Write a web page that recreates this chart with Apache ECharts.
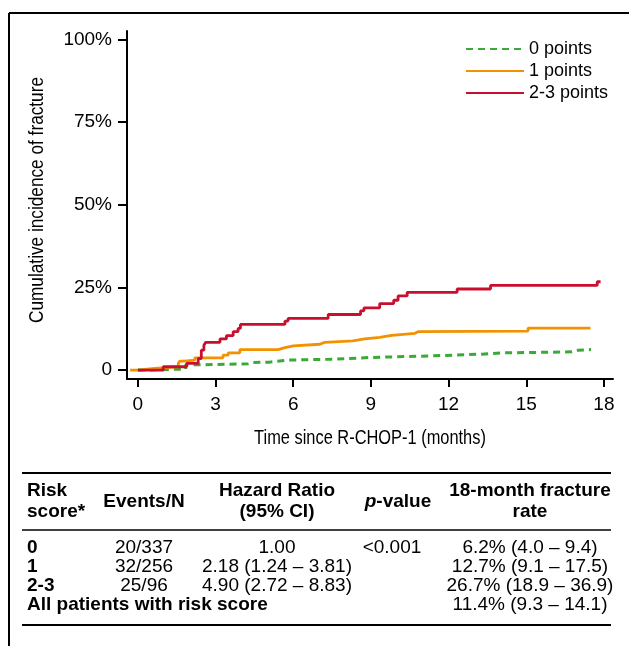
<!DOCTYPE html>
<html>
<head>
<meta charset="utf-8">
<script src="https://cdn.jsdelivr.net/npm/echarts@6/dist/echarts.min.js"></script>
<style>
html,body{margin:0;padding:0;background:#fff;}
#main{width:629px;height:646px;}
</style>
</head>
<body>
<div id="main"></div>
<script>
// ---- Data (months, cumulative incidence %) ----
const seriesNames = ['0 points', '1 points', '2-3 points'];

const t0 = [0, 0.3, 1.85, 2.45, 4.26, 4.45, 5.1, 5.74, 7.67, 8.57, 8.96, 11.4, 13.27, 14.1, 16.74, 17.0, 17.5];
const y0 = [0, 0.3, 1.6, 1.9, 2.3, 2.4, 3.0, 3.3, 3.6, 3.8, 4.3, 4.8, 5.2, 5.5, 6.0, 6.2, 6.2];

const t1 = [-0.3, 0.1, 0.35, 0.66, 1.56, 1.62, 1.79, 2.2, 3.29, 3.49, 3.94, 5.42, 5.68, 6.0, 7.03, 7.22, 8.31, 8.76, 9.34, 9.8, 10.7, 10.82, 15.07, 17.48];
const y1 = [0, 0.3, 0.5, 1.0, 2.0, 2.7, 3.0, 3.7, 4.5, 5.2, 6.2, 6.8, 7.3, 7.8, 8.4, 8.8, 9.4, 9.9, 10.5, 11.1, 11.6, 11.8, 12.7, 12.7];

const t2 = [0, 0.98, 1.88, 2.33, 2.45, 2.55, 2.62, 3.17, 3.42, 3.68, 3.87, 3.96, 5.68, 5.80, 7.35, 8.6, 8.73, 9.34, 9.88, 10.05, 10.4, 12.33, 13.62, 17.74, 17.87];
const y2 = [0, 1.0, 2.0, 3.5, 6.0, 7.5, 8.4, 9.4, 10.4, 11.6, 12.6, 13.8, 14.8, 15.6, 16.8, 17.9, 18.8, 20.1, 21.1, 22.4, 23.5, 24.5, 25.6, 26.7, 26.7];

const xTicks = [0, 3, 6, 9, 12, 15, 18];
const yTicks = [0, 25, 50, 75, 100];
const xTitle = 'Time since R-CHOP-1 (months)';
const yTitle = 'Cumulative incidence of fracture';

// ---- Table contents ----
const headRow1 = ['Risk', 'Hazard Ratio', '18-month fracture'];
const headRow2 = ['score*', '(95% CI)', 'rate'];
const headMid = ['Events/N', '{i|p}-value'];
const rowScores = ['0', '1', '2-3'];
const rowEvents = ['20/337', '32/256', '25/96'];
const rowHR = ['1.00', '2.18 (1.24 \u2013 3.81)', '4.90 (2.72 \u2013 8.83)'];
const rowP = ['<0.001', '', ''];
const rowRate = ['6.2% (4.0 \u2013 9.4)', '12.7% (9.1 \u2013 17.5)', '26.7% (18.9 \u2013 36.9)'];
const allLabel = 'All patients with risk score';
const allRate = '11.4% (9.3 \u2013 14.1)';

// ---- Build ----
const zip = (t, y) => t.map((v, i) => [v, y[i]]);
const FONT = "'Liberation Sans', Arial, Helvetica, sans-serif";
const colors = ['#38aa35', '#f39200', '#c8102e'];

const chart = echarts.init(document.getElementById('main'), null, {renderer: 'canvas'});

const graphics = [];
// frame
graphics.push({type: 'line', shape: {x1: 9, y1: 13, x2: 629, y2: 13}, style: {stroke: '#000', lineWidth: 2}});
graphics.push({type: 'line', shape: {x1: 9, y1: 13, x2: 9, y2: 646}, style: {stroke: '#000', lineWidth: 2}});
// axis titles (condensed look)
graphics.push({type: 'text', x: 370, y: 438, scaleX: 0.82,
  style: {text: xTitle, x: 0, y: 0, align: 'center', verticalAlign: 'middle', font: '20px ' + FONT, fill: '#000'}});
graphics.push({type: 'text', x: 37, y: 200, rotation: Math.PI / 2, scaleX: 0.82,
  style: {text: yTitle, x: 0, y: 0, align: 'center', verticalAlign: 'middle', font: '21px ' + FONT, fill: '#000'}});
// table rules
[[473, 2], [530, 1.5], [625, 2]].forEach(r => {
  graphics.push({type: 'line', shape: {x1: 22, y1: r[0], x2: 611, y2: r[0]}, style: {stroke: '#000', lineWidth: r[1]}});
});
const txt = (text, x, y, align, bold, extra) => {
  graphics.push({
    type: 'text',
    style: Object.assign({
      text: text, x: x, y: y, align: align, verticalAlign: 'middle',
      font: (bold ? 'bold ' : '') + '19px ' + FONT, fill: '#000'
    }, extra || {})
  });
};
const colX = {risk: 27, ev: 144, hr: 277, p: 398, rate: 530};
txt(headRow1[0], colX.risk, 491, 'left', true);
txt(headRow2[0], colX.risk, 512, 'left', true);
txt(headRow1[1], colX.hr, 491, 'center', true);
txt(headRow2[1], colX.hr, 512, 'center', true);
txt(headRow1[2], colX.rate, 491, 'center', true);
txt(headRow2[2], colX.rate, 512, 'center', true);
txt(headMid[0], colX.ev, 502, 'center', true);
txt(headMid[1], colX.p, 502, 'center', true, {rich: {i: {font: 'italic bold 19px ' + FONT}}});
const rowY = [548, 567, 586];
rowScores.forEach((s, i) => {
  txt(s, colX.risk, rowY[i], 'left', true);
  txt(rowEvents[i], colX.ev, rowY[i], 'center', false);
  txt(rowHR[i], colX.hr, rowY[i], 'center', false);
  if (rowP[i]) txt(rowP[i], 392, rowY[i], 'center', false);
  txt(rowRate[i], colX.rate, rowY[i], 'center', false);
});
txt(allLabel, colX.risk, 605, 'left', true);
txt(allRate, colX.rate, 605, 'center', false);

const option = {
  animation: false,
  backgroundColor: '#fff',
  grid: {left: 127, top: 31, right: 16, bottom: 267, containLabel: false},
  legend: {
    left: 460, top: 34, orient: 'vertical',
    itemWidth: 58, itemHeight: 12, itemGap: 2,
    itemStyle: {opacity: 0},
    textStyle: {fontFamily: FONT, fontSize: 18, color: '#000', lineHeight: 20},
    data: seriesNames
  },
  xAxis: {
    type: 'value', min: -0.42, max: 18.35,
    axisLine: {show: true, onZero: false, lineStyle: {color: '#000', width: 2}},
    axisTick: {show: true, customValues: xTicks, length: 8, lineStyle: {color: '#000', width: 2}},
    axisLabel: {customValues: xTicks, margin: 16, fontFamily: FONT, fontSize: 19, color: '#000'},
    splitLine: {show: false}
  },
  yAxis: {
    type: 'value', min: -2.7, max: 102.5,
    axisLine: {show: true, onZero: false, lineStyle: {color: '#000', width: 2}},
    axisTick: {show: true, customValues: yTicks, length: 9, lineStyle: {color: '#000', width: 2}},
    axisLabel: {customValues: yTicks, margin: 15, fontFamily: FONT, fontSize: 19, color: '#000',
      formatter: v => v === 0 ? '0' : v + '%'},
    splitLine: {show: false}
  },
  series: [
    {name: seriesNames[0], type: 'line', step: 'end', symbol: 'none', data: zip(t0, y0), z: 3,
      lineStyle: {color: colors[0], width: 3, type: [7, 5]}, itemStyle: {color: colors[0]}},
    {name: seriesNames[1], type: 'line', step: 'end', symbol: 'none', data: zip(t1, y1), z: 4,
      lineStyle: {color: colors[1], width: 2.8}, itemStyle: {color: colors[1]}},
    {name: seriesNames[2], type: 'line', step: 'end', symbol: 'none', data: zip(t2, y2), z: 5,
      lineStyle: {color: colors[2], width: 2.8}, itemStyle: {color: colors[2]}}
  ],
  graphic: graphics
};
chart.setOption(option);
</script>
</body>
</html>
